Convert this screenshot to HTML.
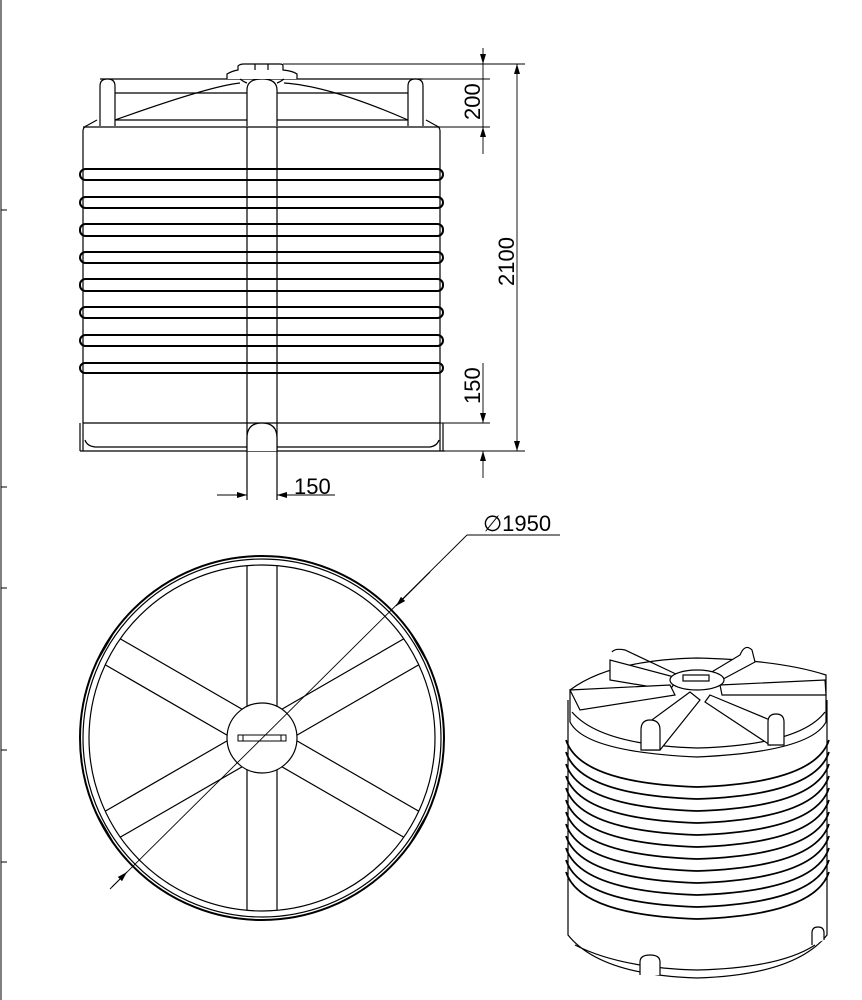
<!DOCTYPE html>
<html><head><meta charset="utf-8"><style>
html,body{margin:0;padding:0;background:#fff;}
svg{display:block;}
text{font-family:"Liberation Sans","DejaVu Sans",sans-serif;fill:#000;}
</style></head><body>
<svg width="862" height="1000" viewBox="0 0 862 1000" xmlns="http://www.w3.org/2000/svg">
<defs>
<marker id="a" viewBox="0 0 10 6" refX="10" refY="3" markerWidth="10" markerHeight="6" orient="auto-start-reverse" markerUnits="userSpaceOnUse"><path d="M0,0 L10,3 L0,6 z" fill="#000"/></marker>
<clipPath id="cc"><circle cx="262" cy="738" r="173"/></clipPath>
</defs>
<g stroke="#000" stroke-width="1">
<line x1="1" y1="0" x2="1" y2="1000"/>
<line x1="1" y1="210" x2="7" y2="210"/><line x1="1" y1="487" x2="7" y2="487"/>
<line x1="1" y1="588" x2="7" y2="588"/><line x1="1" y1="750" x2="7" y2="750"/><line x1="1" y1="862" x2="7" y2="862"/>
</g>

<g fill="none" stroke="#000" stroke-width="1.2">
<path d="M83,451 L83,131 Q83,127 88,125 L97,120"/>
<path d="M440,451 L440,131 Q440,127 435,125 L426,120"/>
<line x1="83" y1="127" x2="440" y2="127"/>
<line x1="80" y1="451" x2="445" y2="451"/>
<line x1="83" y1="423" x2="440" y2="423"/>
<path d="M80,423 L80,451 M443,423 L443,451"/>
<path d="M85,440 Q87,446 95,447 L430,447 Q437,446 439,440"/>
<g stroke-width="2">
<rect x="80" y="169" width="363" height="11" rx="5.5"/>
<rect x="80" y="197" width="363" height="11" rx="5.5"/>
<rect x="80" y="224" width="363" height="12" rx="5.5"/>
<rect x="80" y="252" width="363" height="11" rx="5.5"/>
<rect x="80" y="279" width="363" height="12" rx="5.5"/>
<rect x="80" y="307" width="363" height="11" rx="5.5"/>
<rect x="80" y="335" width="363" height="11" rx="5.5"/>
<rect x="80" y="363" width="363" height="10" rx="5"/>
</g>
<line x1="247" y1="127" x2="247" y2="500"/>
<line x1="277" y1="127" x2="277" y2="500"/>
<path d="M247,451 L247,438 Q247,423 262,423 Q277,423 277,438 L277,451" fill="#fff"/>
<path d="M115,120 Q210,86 240,83 M284,83 Q330,86 408,120"/>
<line x1="115" y1="120" x2="408" y2="120"/>
<line x1="100" y1="79" x2="423" y2="79"/>
<line x1="115" y1="93" x2="408" y2="93"/>
<path d="M100,126 L100,86 Q100,79 107.5,79 Q115,79 115,86 L115,126" fill="#fff"/>
<path d="M408,126 L408,86 Q408,79 415.5,79 Q423,79 423,86 L423,126" fill="#fff"/>
<path d="M247,126 L247,90 Q247,79 262,79 Q277,79 277,90 L277,126" fill="#fff"/>
<path d="M227,79 L227,74 Q232,71 238,70 L238,66 Q240,64 244,64 L280,64 Q283,64 283,66 L283,70 Q293,71 297,74 L297,79" fill="#fff"/>
<path d="M240,79 Q244,82 247,83 M284,79 Q280,82 277,83"/>
<line x1="255" y1="64" x2="255" y2="70"/><line x1="268" y1="64" x2="268" y2="70"/>
</g>
<g stroke="#000" stroke-width="0.9" fill="none">
<line x1="283" y1="64" x2="525" y2="64"/>
<line x1="297" y1="79" x2="490" y2="79"/>
<line x1="440" y1="127" x2="490" y2="127"/>
<line x1="277" y1="423" x2="490" y2="423"/>
<line x1="445" y1="451" x2="525" y2="451"/>
<line x1="483" y1="48" x2="483" y2="64" marker-end="url(#a)"/>
<line x1="483" y1="154" x2="483" y2="127" marker-end="url(#a)"/>
<line x1="483" y1="64" x2="483" y2="127"/>
<line x1="517" y1="64" x2="517" y2="451" marker-start="url(#a)" marker-end="url(#a)"/>
<line x1="483" y1="363" x2="483" y2="423" marker-end="url(#a)"/>
<line x1="483" y1="478" x2="483" y2="451" marker-end="url(#a)"/>
<line x1="217" y1="495" x2="247" y2="495" marker-end="url(#a)"/>
<line x1="335" y1="495" x2="277" y2="495" marker-end="url(#a)"/>
</g>
<text x="0" y="0" font-size="22" transform="translate(480,120) rotate(-90)">200</text>
<text x="0" y="0" font-size="22" transform="translate(514,286) rotate(-90)">2100</text>
<text x="0" y="0" font-size="22" transform="translate(480,404) rotate(-90)">150</text>
<text x="294" y="494" font-size="22">150</text>

<g fill="none" stroke="#000" stroke-width="1.2">
<circle cx="262" cy="738" r="182" stroke-width="2"/>
<circle cx="262" cy="738" r="179"/>
<circle cx="262" cy="738" r="173"/>
<g clip-path="url(#cc)">
<path d="M247,738 L247,548 M277,738 L277,548"/>
<path d="M247,738 L247,928 M277,738 L277,928"/>
<g transform="rotate(60 262 738)"><path d="M247,738 L247,540 M277,738 L277,540"/></g>
<g transform="rotate(-60 262 738)"><path d="M247,738 L247,540 M277,738 L277,540"/></g>
<g transform="rotate(120 262 738)"><path d="M247,738 L247,540 M277,738 L277,540"/></g>
<g transform="rotate(-120 262 738)"><path d="M247,738 L247,540 M277,738 L277,540"/></g>
</g>
<g transform="rotate(60 262 738)"><line x1="247" y1="557" x2="277" y2="557"/></g>
<g transform="rotate(-60 262 738)"><line x1="247" y1="557" x2="277" y2="557"/></g>
<g transform="rotate(120 262 738)"><line x1="247" y1="557" x2="277" y2="557"/></g>
<g transform="rotate(-120 262 738)"><line x1="247" y1="557" x2="277" y2="557"/></g>
<circle cx="262" cy="738" r="35" fill="#fff"/>
<rect x="238" y="735" width="48" height="6" fill="#fff" stroke-width="1"/>
<line x1="243" y1="735" x2="243" y2="741" stroke-width="1"/><line x1="281" y1="735" x2="281" y2="741" stroke-width="1"/>
</g>
<g stroke="#000" stroke-width="0.9" fill="none">
<line x1="112" y1="887" x2="467" y2="535"/>
<line x1="467" y1="535" x2="560" y2="535"/>
<line x1="430" y1="572" x2="396" y2="606" marker-end="url(#a)"/>
<line x1="110" y1="889" x2="127" y2="872" marker-end="url(#a)"/>
</g>
<text x="483" y="531" font-size="22">∅1950</text>

<g fill="#fff" stroke="#000" stroke-width="1.2">
<path d="M568,700 L568,935 Q600,975 697,978 Q795,975 827,935 L827,700"/>
<path d="M575,945 Q620,968 697,970 Q780,968 815,945" fill="none"/>
<g fill="none" stroke-width="1.8">
<path d="M566,740 Q580,783 697,787 Q815,783 829,740"/>
<path d="M566,752 Q580,795 697,799 Q815,795 829,752"/>
<path d="M566,764 Q580,807 697,811 Q815,807 829,764"/>
<path d="M566,776 Q580,819 697,823 Q815,819 829,776"/>
<path d="M566,788 Q580,831 697,835 Q815,831 829,788"/>
<path d="M566,800 Q580,843 697,847 Q815,843 829,800"/>
<path d="M566,812 Q580,855 697,859 Q815,855 829,812"/>
<path d="M566,824 Q580,867 697,871 Q815,867 829,824"/>
<path d="M566,836 Q580,879 697,883 Q815,879 829,836"/>
<path d="M566,848 Q580,891 697,895 Q815,891 829,848"/>
<path d="M566,860 Q580,903 697,907 Q815,903 829,860"/>
<path d="M566,872 Q580,915 697,919 Q815,915 829,872"/>
</g>
<path d="M570,722 Q585,752 697,757 Q810,752 826,722 L826,675 Q780,660 697,658 Q610,660 570,690 Z"/>
<path d="M572,712 Q600,745 697,748 Q800,745 825,712" fill="none"/>
<path d="M610,660 L610,680 L670,690 L678,678 Z"/>
<path d="M612,652 Q615,648 625,650 L678,675" fill="none"/>
<path d="M740,655 Q745,643 752,650 L755,662 L712,685 L705,676 Z"/>
<path d="M570,690 L670,685 L675,695 L580,710 Z"/>
<path d="M720,685 L825,680 L826,695 L722,695 Z"/>
<path d="M690,692 L645,725 L645,750 L660,750 L700,700 Z"/>
<path d="M641,750 L641,730 Q641,720 650,720 Q660,720 660,730 L660,750 Z"/>
<path d="M710,695 L770,720 L770,745 L705,702 Z"/>
<path d="M768,745 L768,722 Q768,714 776,714 Q784,714 784,722 L784,745 Z"/>
<ellipse cx="697" cy="680" rx="27" ry="10"/>
<rect x="683" y="675" width="26" height="6"/>
<path d="M640,975 L640,962 Q640,955 650,955 Q660,955 660,962 L660,975"/>
<path d="M812,945 L812,933 Q812,927 818,927 Q824,927 824,933 L824,940"/>
</g>
</svg>
</body></html>
